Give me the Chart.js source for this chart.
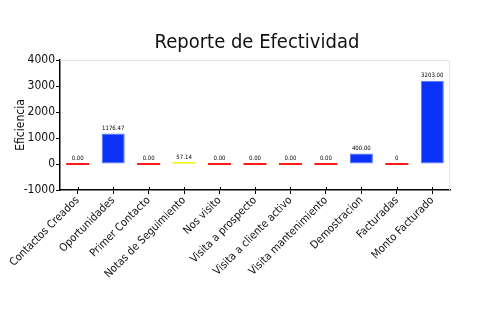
<!DOCTYPE html>
<html>
<head>
<meta charset="utf-8">
<script src="https://cdn.jsdelivr.net/npm/chart.js@4.4.0/dist/chart.umd.min.js"></script>
<style>
  html, body { margin: 0; padding: 0; background: #fff; }
  #wrap { width: 500px; height: 330px; }
</style>
</head>
<body>
<div id="wrap"><canvas id="chart" width="500" height="330"></canvas></div>
<script>
// Chart data
const categories = ["Contactos Creados", "Oportunidades", "Primer Contacto", "Notas de Seguimiento",
  "Nos visito", "Visita a prospecto", "Visita a cliente activo", "Visita mantenimiento",
  "Demostracion", "Facturadas", "Monto Facturado"];
const values = [0, 1176.47, 0, 57.14, 0, 0, 0, 0, 400, 0, 3203];
const valueLabels = ["0.00", "1176.47", "0.00", "57.14", "0.00", "0.00", "0.00", "0.00", "400.00", "0", "3203.00"];
const yTicks = [-1000, 0, 1000, 2000, 3000, 4000];

const FONT = "'DejaVu Sans Condensed', 'Liberation Sans Narrow', 'DejaVu Sans', sans-serif";

function barColor(v) {
  if (v === 0) return "#ff1a1a";
  if (v < 100) return "#f5f500";
  return "#0a32f8";
}

// extra drawing: frame, crossing x ticks, value labels
const extras = {
  id: "extras",
  afterDraw(chart) {
    const ctx = chart.ctx;
    const a = chart.chartArea;
    ctx.save();
    ctx.strokeStyle = "#e4e4e4";
    ctx.lineWidth = 1;
    ctx.beginPath();
    ctx.moveTo(a.left, a.top + 0.5);
    ctx.lineTo(a.right - 0.5, a.top + 0.5);
    ctx.lineTo(a.right - 0.5, a.bottom);
    ctx.stroke();

    const xs = chart.scales.x;
    ctx.strokeStyle = "#000";
    ctx.beginPath();
    categories.forEach((c, i) => {
      const x = Math.round(xs.getPixelForValue(i)) + 0.5;
      ctx.moveTo(x, a.bottom - 3);
      ctx.lineTo(x, a.bottom);
    });
    ctx.stroke();

    const meta = chart.getDatasetMeta(0);
    ctx.fillStyle = "#000";
    ctx.font = "6px " + FONT;
    ctx.textAlign = "center";
    ctx.textBaseline = "bottom";
    meta.data.forEach((bar, i) => {
      const top = Math.min(bar.y, bar.base);
      ctx.fillText(valueLabels[i], bar.x, top - 2);
    });
    ctx.restore();
  }
};

new Chart(document.getElementById("chart"), {
  type: "bar",
  data: {
    labels: categories,
    datasets: [{
      data: values,
      backgroundColor: values.map(barColor),
      borderColor: values.map(v => v >= 100 ? "#5577f8" : barColor(v)),
      borderWidth: values.map(v => v >= 100 ? 1 : 0),
      borderSkipped: false,
      minBarLength: 2,
      barPercentage: 0.65,
      categoryPercentage: 1
    }]
  },
  options: {
    responsive: false,
    animation: false,
    layout: { padding: { left: 14, right: 0, top: 0, bottom: 0 } },
    plugins: {
      legend: { display: false },
      tooltip: { enabled: false },
      title: {
        display: true,
        text: "Reporte de Efectividad",
        color: "#111",
        font: { family: FONT, size: 20, weight: "normal" },
        padding: { top: 31, bottom: 5 }
      }
    },
    scales: {
      x: {
        afterFit(scale) { scale.height = 140; },
        grid: { drawOnChartArea: false, offset: false, color: "#000", tickLength: 4 },
        border: { color: "#000", width: 1.5 },
        ticks: {
          color: "#111",
          font: { family: FONT, size: 11 },
          maxRotation: 45,
          minRotation: 45,
          padding: 0,
          autoSkip: false
        }
      },
      y: {
        min: -1000,
        max: 4000,
        afterFit(scale) { scale.width = 46; },
        afterBuildTicks(scale) {
          const t = [];
          for (let v = -1000; v <= 4000; v += 500) t.push({ value: v });
          scale.ticks = t;
        },
        grid: {
          drawOnChartArea: false,
          tickLength: 4,
          color: ctx => (yTicks.includes(ctx.tick.value) ? "#000" : "#e00000")
        },
        border: { color: "#000", width: 1.5 },
        ticks: {
          color: "#111",
          font: { family: FONT, size: 12 },
          padding: 1,
          callback: v => (yTicks.includes(v) ? String(v) : "")
        },
        title: {
          display: true,
          text: "Eficiencia",
          color: "#111",
          font: { family: FONT, size: 12 },
          padding: { top: 0, bottom: 0 }
        }
      },
      // empty right-hand box, keeps the plot clear of the right edge
      spacer: {
        type: "linear",
        position: "right",
        afterFit(scale) { scale.width = 50; },
        grid: { display: false },
        border: { display: false },
        ticks: { display: false }
      }
    }
  },
  plugins: [extras]
});
</script>
</body>
</html>
